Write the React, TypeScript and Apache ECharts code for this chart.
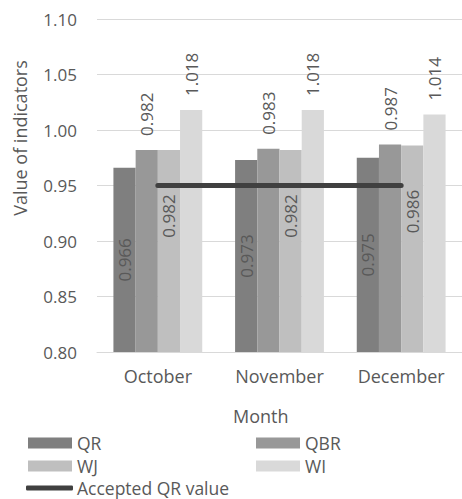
import React, { useEffect, useRef } from "react";
import * as echarts from "echarts";

const months = ["October", "November", "December"];
const qr = [0.966, 0.973, 0.975];
const qbr = [0.982, 0.983, 0.987];
const wj = [0.982, 0.982, 0.986];
const wi = [1.018, 1.018, 1.014];
const acceptedQR = [0.95, 0.95, 0.95];
const yTicks = { min: 0.8, max: 1.1, interval: 0.05 };

const FONT = "'Open Sans', sans-serif";
const TXT = "#595959";

export default function App() {
  const ref = useRef<HTMLDivElement>(null);
  useEffect(() => {
    if (!ref.current) return;
    const chart = echarts.init(ref.current, null, { renderer: "svg" });
    const labelBase = {
      show: true,
      rotate: 90,
      fontSize: 17,
      fontFamily: FONT,
      color: TXT,
      formatter: (p: any) => p.value.toFixed(3),
    };
    const topLabel = {
      ...labelBase,
      position: "top",
      align: "left",
      verticalAlign: "middle",
      distance: 14,
    };
    const legendText = { fontSize: 17.5, color: TXT, fontFamily: FONT, lineHeight: 20 };
    chart.setOption({
      animation: false,
      textStyle: { fontFamily: FONT },
      grid: { left: 97, right: 0, top: 19, bottom: 147 },
      legend: [
        {
          data: ["QR", "WJ"],
          orient: "vertical",
          left: 28,
          top: 433,
          padding: 0,
          itemWidth: 44,
          itemHeight: 11,
          itemGap: 3,
          icon: "rect",
          textStyle: legendText,
        },
        {
          data: ["QBR", "WI"],
          orient: "vertical",
          left: 256,
          top: 433,
          padding: 0,
          itemWidth: 44,
          itemHeight: 11,
          itemGap: 3,
          icon: "rect",
          textStyle: legendText,
        },
        {
          data: ["Accepted QR value"],
          left: 26,
          top: 478,
          padding: 0,
          itemWidth: 47,
          itemHeight: 5,
          icon: "roundRect",
          textStyle: { ...legendText, padding: [0, 0, 0, -1] },
        },
      ],
      xAxis: {
        type: "category",
        data: months,
        axisTick: { show: false },
        axisLine: { lineStyle: { color: "#d9d9d9", width: 1 } },
        axisLabel: { fontSize: 18, color: TXT, fontFamily: FONT, margin: 15 },
      },
      yAxis: {
        type: "value",
        min: yTicks.min,
        max: yTicks.max,
        interval: yTicks.interval,
        axisLine: { show: false },
        axisTick: { show: false },
        splitLine: { lineStyle: { color: "#d9d9d9", width: 1 } },
        axisLabel: {
          fontSize: 17,
          color: TXT,
          fontFamily: FONT,
          margin: 20,
          formatter: (v: number) => v.toFixed(2),
        },
      },
      graphic: [
        {
          type: "text",
          left: 233,
          top: 407,
          style: { text: "Month", fontSize: 18, fill: TXT, fontFamily: FONT },
        },
        {
          type: "text",
          x: 20,
          y: 138,
          rotation: Math.PI / 2,
          style: {
            text: "Value of indicators",
            fontSize: 18,
            fill: TXT,
            fontFamily: FONT,
            align: "center",
            verticalAlign: "middle",
          },
        },
      ],
      series: [
        {
          name: "QR",
          type: "bar",
          data: qr,
          barGap: "0%",
          barCategoryGap: "27%",
          itemStyle: { color: "#7f7f7f" },
          label: {
            ...labelBase,
            position: ["50%", "50%"],
            align: "center",
            verticalAlign: "middle",
          },
        },
        {
          name: "QBR",
          type: "bar",
          data: qbr,
          barGap: "0%",
          barCategoryGap: "27%",
          itemStyle: { color: "#989898" },
          label: topLabel,
        },
        {
          name: "WJ",
          type: "bar",
          data: wj,
          barGap: "0%",
          barCategoryGap: "27%",
          itemStyle: { color: "#bfbfbf" },
          label: {
            ...labelBase,
            position: ["50%", 66],
            align: "center",
            verticalAlign: "middle",
          },
        },
        {
          name: "WI",
          type: "bar",
          data: wi,
          barGap: "0%",
          barCategoryGap: "27%",
          itemStyle: { color: "#d9d9d9" },
          label: topLabel,
        },
        {
          name: "Accepted QR value",
          type: "line",
          data: acceptedQR,
          symbol: "none",
          z: 5,
          itemStyle: { color: "#404040" },
          lineStyle: { color: "#404040", width: 5, cap: "round" },
        },
      ],
    });
    return () => chart.dispose();
  }, []);
  return (
    <div
      ref={ref}
      style={{ position: "fixed", left: 0, top: 0, width: 462, height: 499, background: "#fff" }}
    />
  );
}
